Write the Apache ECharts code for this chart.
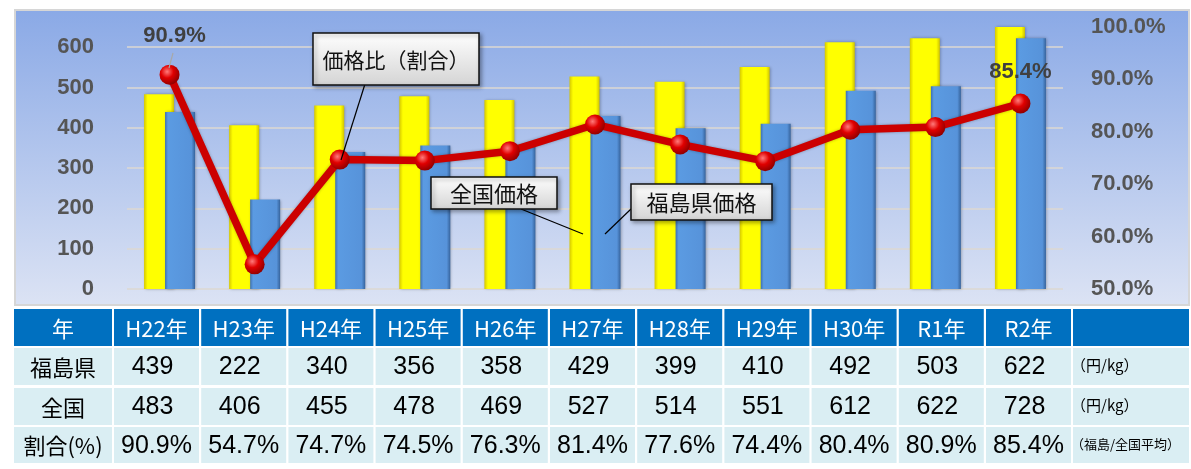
<!DOCTYPE html>
<html>
<head>
<meta charset="utf-8">
<script src="https://cdn.jsdelivr.net/npm/echarts@6/dist/echarts.min.js"></script>
<style>
html, body { margin: 0; padding: 0; background: #fff; }
#chart { width: 1191px; height: 469px; }
</style>
</head>
<body>
<div id="chart"></div>
<script>
var years = ['H22年', 'H23年', 'H24年', 'H25年', 'H26年', 'H27年', 'H28年', 'H29年', 'H30年', 'R1年', 'R2年'];
var fukushima = [439, 222, 340, 356, 358, 429, 399, 410, 492, 503, 622];
var national = [483, 406, 455, 478, 469, 527, 514, 551, 612, 622, 728];
var ratio = [90.9, 54.7, 74.7, 74.5, 76.3, 81.4, 77.6, 74.4, 80.4, 80.9, 85.4];
var rowNames = ['年', '福島県', '全国', '割合(%)'];
var units = ['', '（円/kg）', '（円/kg）', '（福島/全国平均）'];

var JP = '"Noto Sans CJK JP", sans-serif';
var LAT = '"Liberation Sans", Arial, sans-serif';

var chart = echarts.init(document.getElementById('chart'));

// table under the chart
var table = [];
var rowTop = [309, 348, 388, 427];
var rowH = [37, 37, 37, 36];
var colX = [14], colW = [98];
for (var i = 0; i < years.length; i++) {
    colX.push(114 + i * 87.2);
    colW.push(85);
}
colX.push(1073);
colW.push(116);

var rows = [
    [rowNames[0]].concat(years).concat(units[0]),
    [rowNames[1]].concat(fukushima.map(String)).concat(units[1]),
    [rowNames[2]].concat(national.map(String)).concat(units[2]),
    [rowNames[3]].concat(ratio.map(function (v) { return v.toFixed(1) + '%'; })).concat(units[3])
];

rows.forEach(function (row, r) {
    row.forEach(function (txt, c) {
        table.push({
            type: 'rect',
            shape: { x: colX[c], y: rowTop[r], width: colW[c], height: rowH[r] },
            style: { fill: r === 0 ? '#0070c0' : '#daeef3' },
            z: 1
        });
        if (!txt) return;
        var last = c === row.length - 1;
        var isNum = r > 0 && c > 0 && !last;
        var fs = 22, fam = JP;
        if (isNum) { fs = 25; fam = LAT; }
        if (last) { fs = r === 3 ? 13 : 15; }
        var x = last ? colX[c] - 2 : colX[c] + colW[c] / 2;
        if (isNum && r < 3) x -= 4;
        table.push({
            type: 'text',
            x: x,
            y: rowTop[r] + rowH[r] / 2 + (last ? -1 : 1),
            style: {
                text: txt,
                fill: r === 0 ? '#ffffff' : '#000000',
                fontSize: fs,
                fontFamily: fam,
                textAlign: last ? 'left' : 'center',
                textVerticalAlign: 'middle',
                align: last ? 'left' : 'center',
                verticalAlign: 'middle'
            },
            z: 2
        });
    });
});

// callout boxes
function callout(x, y, w, h, text, fs, lx1, ly1, lx2, ly2) {
    return [{
        type: 'line',
        shape: { x1: lx1, y1: ly1, x2: lx2, y2: ly2 },
        style: { stroke: '#000', lineWidth: 1.2 },
        z: 100
    }, {
        type: 'rect',
        shape: { x: x, y: y, width: w, height: h },
        style: {
            fill: new echarts.graphic.LinearGradient(0, 0, 0, 1, [
                { offset: 0, color: '#ffffff' },
                { offset: 1, color: '#d4d4d4' }
            ]),
            stroke: '#111',
            lineWidth: 1.5,
            shadowBlur: 4,
            shadowOffsetX: 2,
            shadowOffsetY: 2,
            shadowColor: 'rgba(0,0,0,0.35)'
        },
        z: 101
    }, {
        type: 'text',
        x: x + w / 2,
        y: y + h / 2 + 1,
        style: {
            text: text, fill: '#111', fontSize: fs, fontFamily: JP,
            textAlign: 'center', textVerticalAlign: 'middle',
            align: 'center', verticalAlign: 'middle'
        },
        z: 102
    }];
}

var graphics = [{
    type: 'rect',
    shape: { x: 15, y: 10, width: 1174, height: 295 },
    style: {
        fill: new echarts.graphic.LinearGradient(0, 0, 0, 1, [
            { offset: 0, color: '#8aa9e6' },
            { offset: 1, color: '#dce3f4' }
        ]),
        stroke: '#d6d6d6',
        lineWidth: 2
    },
    z: -10
}, {
    type: 'line',
    shape: { x1: 173, y1: 53, x2: 169, y2: 68 },
    style: { stroke: '#a8a8a8', lineWidth: 1.2 },
    z: 50
}].concat(table)
  .concat(callout(313, 33, 166, 52, '価格比（割合）', 21, 365, 84, 341, 160))
  .concat(callout(431, 177, 126, 32, '全国価格', 22, 521, 209, 583, 234))
  .concat(callout(631, 184, 141, 36, '福島県価格', 22, 631, 209, 605, 234));

var lastIdx = ratio.length - 1;
var ratioData = ratio.map(function (v, i) {
    if (i === 0) {
        return { value: v, label: { show: true, position: 'top', distance: 18, offset: [5, 0] } };
    }
    if (i === lastIdx) {
        return { value: v, label: { show: true, position: 'top', distance: 11 } };
    }
    return v;
});

var option = {
    animation: false,
    graphic: graphics,
    grid: { left: 127, right: 128, top: 27, bottom: 180 },
    xAxis: {
        type: 'category',
        data: years,
        axisLine: { show: false },
        axisTick: { show: false },
        axisLabel: { show: false }
    },
    yAxis: [{
        type: 'value',
        min: 0,
        max: 650,
        interval: 100,
        axisLine: { show: false },
        axisTick: { show: false },
        axisLabel: {
            margin: 33,
            showMaxLabel: false,
            color: '#555555',
            fontSize: 22,
            fontWeight: 'bold',
            fontFamily: LAT
        },
        splitLine: { showMaxLine: false, lineStyle: { color: '#dcd9d2', width: 1.5 } }
    }, {
        type: 'value',
        min: 50,
        max: 100,
        interval: 10,
        axisLine: { show: false },
        axisTick: { show: false },
        axisLabel: {
            margin: 28,
            color: '#555555',
            fontSize: 22,
            fontWeight: 'bold',
            fontFamily: LAT,
            formatter: function (v) { return v.toFixed(1) + '%'; }
        },
        splitLine: { show: false }
    }],
    series: [{
        name: '全国',
        type: 'bar',
        barWidth: 30,
        barGap: '-30%',
        data: national,
        itemStyle: {
            color: new echarts.graphic.LinearGradient(0, 0, 1, 0, [
                { offset: 0, color: '#d6c800' },
                { offset: 0.12, color: '#ffff00' },
                { offset: 0.88, color: '#ffff00' },
                { offset: 1, color: '#cfc200' }
            ]),
            shadowBlur: 3,
            shadowOffsetX: 1,
            shadowColor: 'rgba(0,0,0,0.3)'
        }
    }, {
        name: '福島県',
        type: 'bar',
        barWidth: 30,
        data: fukushima,
        itemStyle: {
            color: new echarts.graphic.LinearGradient(0, 0, 1, 0, [
                { offset: 0, color: '#3e70b0' },
                { offset: 0.1, color: '#5b9be2' },
                { offset: 0.88, color: '#5793da' },
                { offset: 1, color: '#36639c' }
            ]),
            shadowBlur: 3,
            shadowOffsetX: 1,
            shadowColor: 'rgba(0,0,0,0.3)'
        }
    }, {
        name: '割合',
        type: 'line',
        yAxisIndex: 1,
        data: ratioData,
        symbol: 'circle',
        symbolSize: 20,
        z: 10,
        lineStyle: {
            color: '#cc0000',
            width: 7.5,
            shadowBlur: 3,
            shadowColor: 'rgba(0,0,0,0.3)'
        },
        itemStyle: {
            color: new echarts.graphic.RadialGradient(0.38, 0.35, 0.7, [
                { offset: 0, color: '#ff7a7a' },
                { offset: 0.45, color: '#e00000' },
                { offset: 1, color: '#8a0000' }
            ])
        },
        label: {
            color: '#404040',
            fontSize: 22,
            fontWeight: 'bold',
            fontFamily: LAT,
            formatter: function (p) { return p.value.toFixed(1) + '%'; }
        }
    }]
};

chart.setOption(option);
</script>
</body>
</html>
